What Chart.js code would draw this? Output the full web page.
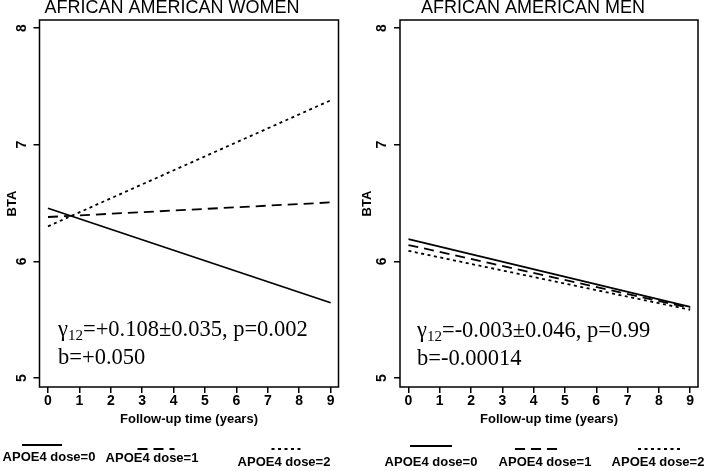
<!DOCTYPE html>
<html><head><meta charset="utf-8">
<script src="https://cdn.jsdelivr.net/npm/chart.js@4/dist/chart.umd.min.js"></script>
<style>
body{margin:0;background:#fff}
#wrap{position:relative;width:709px;height:471px;overflow:hidden}
canvas{position:absolute;top:0}
</style></head>
<body><div id="wrap">
<canvas id="cw" width="355" height="471" style="left:0"></canvas>
<canvas id="cm" width="354" height="471" style="left:355px"></canvas>
</div>
<script>
// ---- data ----
const years = [0, 9];
const xTicks = [0,1,2,3,4,5,6,7,8,9];
const yTicks = [5,6,7,8];
const seriesLabels = ['APOE4 dose=0','APOE4 dose=1','APOE4 dose=2'];
const womenDose0 = [6.455, 5.645];
const womenDose1 = [6.38, 6.505];
const womenDose2 = [6.30, 7.38];
const menDose0 = [6.19, 5.61];
const menDose1 = [6.14, 5.60];
const menDose2 = [6.09, 5.585];
const panelTitles = ['AFRICAN AMERICAN WOMEN','AFRICAN AMERICAN MEN'];
const womenStats = ['=+0.108\u00b10.035, p=0.002', 'b=+0.050'];
const menStats = ['=-0.003\u00b10.046, p=0.99', 'b=-0.00014'];
const yTitle = 'BTA';
const xTitle = 'Follow-up time (years)';

const dashes = [[], [10,6], [3,3.5]];
const SANS = '"Liberation Sans", Arial, sans-serif';
const SERIF = '"Liberation Serif", "Times New Roman", serif';

function pts(v){ return years.map((x,i)=>({x:x, y:v[i]})); }

const deco = {
  id:'deco',
  afterDraw(chart, args, o){
    const ctx = chart.ctx, ca = chart.chartArea;
    ctx.save();
    ctx.strokeStyle = '#000'; ctx.lineWidth = 1.5; ctx.setLineDash([]);
    ctx.strokeRect(ca.left, ca.top, ca.right-ca.left, ca.bottom-ca.top);
    ctx.fillStyle = '#000';
    // title
    ctx.font = '18px ' + SANS; ctx.textAlign='center'; ctx.textBaseline='alphabetic';
    ctx.fillText(o.title, o.titleX, 13);
    // y tick labels (rotated)
    const ys = chart.scales.y;
    ctx.font = 'bold 14px ' + SANS;
    yTicks.forEach(v=>{
      const py = ys.getPixelForValue(v);
      ctx.save(); ctx.translate(ca.left-17.5, py); ctx.rotate(-Math.PI/2);
      ctx.textAlign='center'; ctx.textBaseline='middle'; ctx.fillText(String(v),0,0); ctx.restore();
    });
    // y title
    ctx.font = 'bold 13px ' + SANS;
    ctx.save(); ctx.translate(o.yTitleX, (ca.top+ca.bottom)/2); ctx.rotate(-Math.PI/2);
    ctx.textAlign='center'; ctx.textBaseline='middle'; ctx.fillText(yTitle,0,0); ctx.restore();
    // x title
    ctx.textAlign='center'; ctx.textBaseline='middle';
    ctx.fillText(xTitle, (ca.left+ca.right)/2, 419);
    // annotation
    ctx.textAlign='left'; ctx.textBaseline='alphabetic';
    ctx.font = '22.5px ' + SERIF;
    ctx.fillText('\u03b3', o.annX, o.annY1);
    let cx = o.annX + ctx.measureText('\u03b3').width;
    ctx.font = '15px ' + SERIF;
    ctx.fillText('12', cx, o.annY1+4);
    cx += ctx.measureText('12').width;
    ctx.font = '22.5px ' + SERIF;
    ctx.fillText(o.stats[0], cx, o.annY1);
    ctx.fillText(o.stats[1], o.annX, o.annY2);
    // legend
    ctx.font = 'bold 13px ' + SANS; ctx.textAlign='center'; ctx.textBaseline='middle';
    chart.data.datasets.forEach((ds,i)=>{
      const L = o.legend[i];
      ctx.beginPath(); ctx.lineWidth = 1.8; ctx.setLineDash(ds.borderDash);
      ctx.moveTo(L.lx - L.len/2, L.ly); ctx.lineTo(L.lx + L.len/2, L.ly); ctx.stroke();
      ctx.setLineDash([]);
      ctx.fillText(ds.label, L.tx, L.ty);
    });
    ctx.restore();
  }
};

function makeChart(id, series, opts){
  const ds = series.map((s,i)=>({
    label: seriesLabels[i], data: pts(s), borderColor:'#000', borderWidth:1.8,
    borderDash: dashes[i], pointRadius:0, fill:false, tension:0
  }));
  return new Chart(document.getElementById(id), {
    type:'line',
    data:{datasets: ds},
    options:{
      responsive:false, animation:false, devicePixelRatio:1,
      layout:{padding:{left:0, top:20, right:opts.padRight, bottom:0}},
      plugins:{legend:{display:false}, title:{display:false}, tooltip:{enabled:false}, deco: opts},
      scales:{
        x:{type:'linear', min:-0.27, max:9.25,
          afterBuildTicks: s=>{ s.ticks = xTicks.map(v=>({value:v})); },
          afterFit: s=>{ s.height = 84; },
          grid:{drawOnChartArea:false, drawTicks:true, tickLength:6, color:'#000', lineWidth:1.5},
          border:{display:false},
          ticks:{color:'#000', font:{family:SANS, size:14, weight:'bold'}, padding:0, maxRotation:0, autoSkip:false}
        },
        y:{type:'linear', min:4.9229, max:8.0686,
          afterBuildTicks: s=>{ s.ticks = yTicks.map(v=>({value:v})); },
          afterFit: s=>{ s.width = opts.axisLeft; },
          grid:{drawOnChartArea:false, drawTicks:true, tickLength:6, color:'#000', lineWidth:1.5},
          border:{display:false},
          ticks:{display:false}
        }
      }
    },
    plugins:[deco]
  });
}

makeChart('cw', [womenDose0, womenDose1, womenDose2], {
  title: panelTitles[0], titleX:172, yTitleX:12, axisLeft:39.5, padRight:16.5,
  stats: womenStats, annX:58, annY1:336, annY2:364,
  legend:[{lx:42, ly:445, len:40, tx:49, ty:457},{lx:156, ly:449, len:37, tx:152, ty:458},{lx:287, ly:449, len:31, tx:284, ty:462}]
});
makeChart('cm', [menDose0, menDose1, menDose2], {
  title: panelTitles[1], titleX:178, yTitleX:12.5, axisLeft:45, padRight:11,
  stats: menStats, annX:62, annY1:337, annY2:365,
  legend:[{lx:76, ly:446, len:42, tx:76, ty:462},{lx:181, ly:449, len:42, tx:190, ty:462},{lx:304, ly:449, len:42, tx:303, ty:462}]
});
</script>
</body></html>
